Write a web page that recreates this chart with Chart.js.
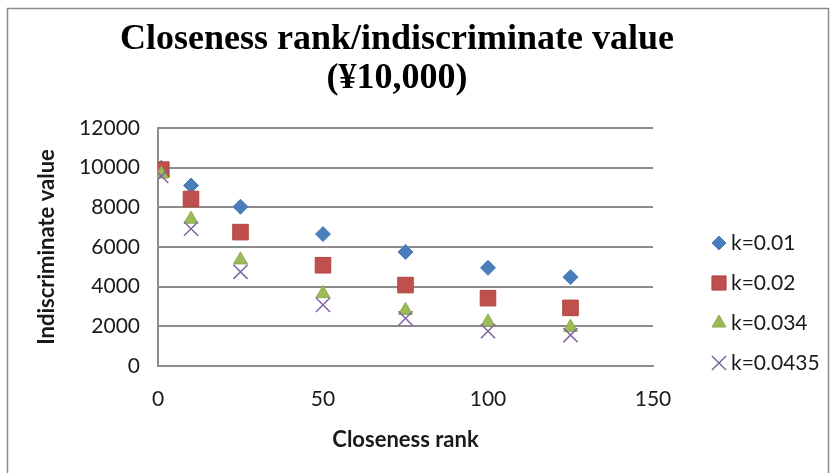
<!DOCTYPE html>
<html>
<head>
<meta charset="utf-8">
<script src="https://cdn.jsdelivr.net/npm/chart.js@4.4.1/dist/chart.umd.min.js"></script>
<style>
  html, body { margin: 0; padding: 0; background: #fff; }
  #wrap { width: 832px; height: 473px; }
</style>
</head>
<body>
<div id="wrap"><canvas id="rank-value"></canvas></div>
<script>
// closeness rank on x, indiscriminate value (x10,000 yen) on y
var ranks = [1, 10, 25, 50, 75, 100, 125];
var valK001 = [9990, 9100, 8030, 6650, 5750, 4950, 4480];
var valK002 = [9900, 8420, 6750, 5080, 4080, 3420, 2930];
var valK0034 = [9680, 7400, 5350, 3650, 2800, 2220, 1950];
var valK00435 = [9580, 6920, 4750, 3080, 2400, 1760, 1560];
var seriesNames = ['k=0.01', 'k=0.02', 'k=0.034', 'k=0.0435'];
var titleLines = ['Closeness rank/indiscriminate value', '(¥10,000)'];

Chart.defaults.font.family = 'Lato';
Chart.defaults.color = '#1a1a1a';

function toPoints(vals) {
    return ranks.map(function (r, i) { return { x: r, y: vals[i] }; });
}

// white page plus the thin grey frame round the whole chart
const frame = {
    id: 'frame',
    beforeDraw(chart) {
        const ctx = chart.ctx;
        ctx.save();
        ctx.fillStyle = '#fff';
        ctx.fillRect(0, 0, chart.width, chart.height);
        ctx.strokeStyle = '#8c8c8c';
        ctx.lineWidth = 1.5;
        ctx.strokeRect(7.5, 8.5, 821, 480);
        ctx.restore();
    }
};

// two-line serif heading, drawn at natural width (the built-in title squeezes it)
const heading = {
    id: 'heading',
    afterDraw(chart) {
        const ctx = chart.ctx;
        ctx.save();
        ctx.fillStyle = '#000';
        ctx.font = 'bold 36px "Liberation Serif"';
        ctx.textAlign = 'center';
        ctx.textBaseline = 'alphabetic';
        titleLines.forEach(function (line, i) {
            ctx.fillText(line, 397, 49 + i * 39);
        });
        ctx.restore();
    }
};

// legend stacked down the right side
const sideLegend = {
    id: 'sideLegend',
    afterDraw(chart) {
        const ctx = chart.ctx;
        ctx.save();
        chart.data.datasets.forEach(function (ds, i) {
            const y = 243 + i * 40;
            ctx.fillStyle = ds.backgroundColor;
            ctx.strokeStyle = ds.borderColor;
            ctx.lineWidth = ds.borderWidth;
            Chart.helpers.drawPoint(ctx, {
                pointStyle: ds.pointStyle,
                radius: ds.legendRadius,
                rotation: 0,
                borderWidth: ds.borderWidth
            }, 719, y);
            ctx.fillStyle = '#1a1a1a';
            ctx.font = '21px Lato';
            ctx.textBaseline = 'middle';
            ctx.fillText(ds.label, 731, y);
        });
        ctx.restore();
    }
};

const ctx = document.getElementById('rank-value');

var rankChart = new Chart(ctx, {
    type: 'scatter',
    data: {
        datasets: [{
            label: seriesNames[0],
            data: toPoints(valK001),
            pointStyle: 'rectRot',
            pointRadius: 7.5,
            legendRadius: 7,
            backgroundColor: '#4a7ebb',
            borderColor: '#4a7ebb',
            borderWidth: 1,
            order: 4
        }, {
            label: seriesNames[1],
            data: toPoints(valK002),
            pointStyle: 'rect',
            pointRadius: 11,
            legendRadius: 10,
            backgroundColor: '#c0504d',
            borderColor: '#b4433f',
            borderWidth: 1,
            order: 3
        }, {
            label: seriesNames[2],
            data: toPoints(valK0034),
            pointStyle: 'triangle',
            pointRadius: 8,
            legendRadius: 8,
            backgroundColor: '#9bbb59',
            borderColor: '#8aac48',
            borderWidth: 1,
            order: 2
        }, {
            label: seriesNames[3],
            data: toPoints(valK00435),
            pointStyle: 'crossRot',
            pointRadius: 10,
            legendRadius: 10,
            backgroundColor: '#8064a2',
            borderColor: '#8064a2',
            borderWidth: 1.5,
            order: 1
        }]
    },
    options: {
        responsive: true,
        maintainAspectRatio: false,
        animation: false,
        layout: {
            padding: { left: 0, right: 179, top: 128, bottom: 0 }
        },
        plugins: {
            legend: { display: false },
            tooltip: { enabled: false },
            title: { display: false }
        },
        scales: {
            x: {
                type: 'linear',
                min: 0,
                max: 150,
                ticks: { stepSize: 50, padding: 21, font: { size: 21 } },
                grid: { display: false, drawTicks: false },
                border: { display: true, color: '#8c8c8c', width: 2 },
                title: {
                    display: true,
                    text: 'Closeness rank',
                    font: { size: 22, weight: 'bold' },
                    padding: { top: 4, bottom: 20 }
                },
                afterFit: function (scale) { scale.height = 107; }
            },
            y: {
                min: 0,
                max: 12000,
                ticks: {
                    stepSize: 2000,
                    padding: 18,
                    font: { size: 21 },
                    callback: function (v) { return String(v); }
                },
                grid: { color: '#8c8c8c', lineWidth: 2, drawTicks: false },
                border: { display: true, color: '#8c8c8c', width: 2 },
                title: {
                    display: true,
                    text: 'Indiscriminate value',
                    font: { size: 22, weight: 'bold' },
                    padding: { top: 34, bottom: 0 }
                },
                afterFit: function (scale) { scale.width = 158; }
            }
        }
    },
    plugins: [frame, heading, sideLegend]
});
</script>
</body>
</html>
